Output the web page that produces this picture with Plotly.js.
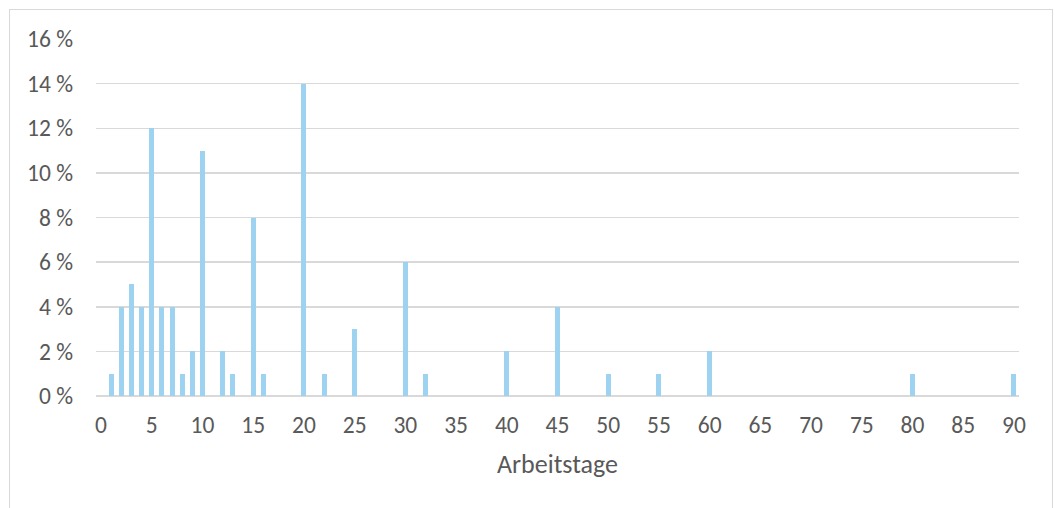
<!DOCTYPE html>
<html>
<head>
<meta charset="utf-8">
<script src="https://cdn.plot.ly/plotly-3.0.1.min.js"></script>
<style>
  html, body { margin: 0; padding: 0; background: #ffffff; }
  #wrap { position: relative; width: 1055px; height: 508px; overflow: hidden; }
  #chart { width: 1055px; height: 508px; }
  #frame {
    position: absolute; left: 9px; top: 9px; width: 1042px; height: 520px;
    border: 1.5px solid #d9d9d9; pointer-events: none;
  }
</style>
</head>
<body>
<div id="wrap">
  <div id="chart"></div>
  <div id="frame"></div>
</div>
<script>
// Working days (Arbeitstage) and share of cases in percent
const days    = [1, 2, 3, 4, 5, 6, 7, 8, 9, 10, 12, 13, 15, 16, 20, 22, 25, 30, 32, 40, 45, 50, 55, 60, 80, 90];
const percent = [1, 4, 5, 4, 12, 4, 4, 1, 2, 11, 2, 1, 8, 1, 14, 1, 3, 6, 1, 2, 4, 1, 1, 2, 1, 1];

const xTicks = [0, 5, 10, 15, 20, 25, 30, 35, 40, 45, 50, 55, 60, 65, 70, 75, 80, 85, 90];
const yTicks = [0, 2, 4, 6, 8, 10, 12, 14, 16];
const yTickLabels = ["0 %", "2 %", "4 %", "6 %", "8 %", "10 %", "12 %", "14 %", "16 %"];
const xTitle = "Arbeitstage";

const font = "Carlito, Calibri, 'Liberation Sans Narrow', 'DejaVu Sans Condensed', sans-serif";
const textColor = "#595959";
const gridColor = "#d9d9d9";

const trace = {
  type: "bar",
  x: days,
  y: percent,
  width: 0.5,
  marker: { color: "#9dd3f0", line: { width: 0 } },
  hoverinfo: "x+y"
};

const layout = {
  width: 1055,
  height: 508,
  margin: { l: 96, r: 36, t: 39, b: 112, pad: 0 },
  paper_bgcolor: "#ffffff",
  plot_bgcolor: "#ffffff",
  showlegend: false,
  font: { family: font, color: textColor, size: 23.5 },
  bargap: 0,
  xaxis: {
    range: [-0.5, 90.5],
    tickmode: "array",
    tickvals: xTicks,
    ticktext: xTicks.map(String),
    showgrid: false,
    zeroline: false,
    showline: false,
    ticks: "",
    ticklabelstandoff: 12,
    tickfont: { family: font, size: 23.5, color: textColor },
    title: { text: xTitle, font: { family: font, size: 26, color: textColor }, standoff: 17 },
    fixedrange: true
  },
  yaxis: {
    range: [0, 16],
    tickmode: "array",
    tickvals: yTicks,
    ticktext: yTickLabels,
    showgrid: true,
    gridcolor: gridColor,
    gridwidth: 1.5,
    zeroline: true,
    zerolinecolor: gridColor,
    zerolinewidth: 1.5,
    showline: false,
    ticks: "",
    ticklabelstandoff: 22,
    tickfont: { family: font, size: 23.5, color: textColor },
    fixedrange: true
  }
};

Plotly.newPlot("chart", [trace], layout, { displayModeBar: false, staticPlot: true });
</script>
</body>
</html>
